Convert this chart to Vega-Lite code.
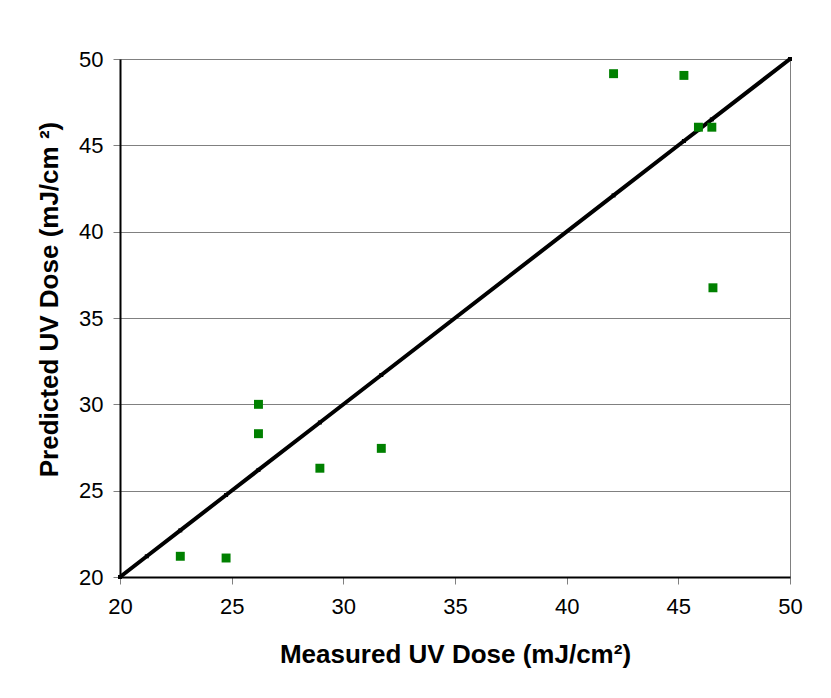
{
  "$schema": "https://vega.github.io/schema/vega-lite/v6.json",
  "autosize": {"type": "none"},
  "width": 670,
  "height": 518,
  "padding": {"left": 120, "top": 59, "right": 41, "bottom": 121},
  "background": "white",
  "config": {
    "view": {"stroke": "#808080", "strokeWidth": 1},
    "font": "Liberation Sans",
    "axis": {
      "labelFont": "Liberation Sans",
      "titleFont": "Liberation Sans",
      "labelFontSize": 22,
      "labelColor": "black",
      "labelFlush": false,
      "titleFontSize": 26,
      "titleFontWeight": "bold",
      "titleColor": "black",
      "domainColor": "black",
      "domainWidth": 2,
      "tickColor": "#808080",
      "tickSize": 7,
      "tickWidth": 1,
      "gridColor": "#808080",
      "gridWidth": 1,
      "gridOpacity": 1
    }
  },
  "datasets": {
    "obs": [
      {"measured": 22.7, "predicted": 21.2},
      {"measured": 24.75, "predicted": 21.1},
      {"measured": 26.2, "predicted": 30.0},
      {"measured": 26.2, "predicted": 28.3},
      {"measured": 28.95, "predicted": 26.3},
      {"measured": 31.7, "predicted": 27.45},
      {"measured": 42.1, "predicted": 49.15},
      {"measured": 45.25, "predicted": 49.05},
      {"measured": 45.9, "predicted": 46.05},
      {"measured": 46.5, "predicted": 46.05},
      {"measured": 46.55, "predicted": 36.75}
    ],
    "line": [
      {"x": 20, "y": 20},
      {"x": 21.2, "y": 21.2},
      {"x": 22.7, "y": 22.7},
      {"x": 24.75, "y": 24.75},
      {"x": 26.2, "y": 26.2},
      {"x": 28.95, "y": 28.95},
      {"x": 31.7, "y": 31.7},
      {"x": 42.1, "y": 42.1},
      {"x": 45.25, "y": 45.25},
      {"x": 45.9, "y": 45.9},
      {"x": 46.5, "y": 46.5},
      {"x": 50, "y": 50}
    ]
  },
  "layer": [
    {
      "data": {"name": "line"},
      "mark": {"type": "line", "color": "black", "strokeWidth": 4, "clip": false},
      "encoding": {
        "x": {
          "field": "x", "type": "quantitative",
          "scale": {"domain": [20, 50], "nice": false, "zero": false},
          "axis": {"values": [20, 25, 30, 35, 40, 45, 50], "grid": false, "title": "Measured UV Dose (mJ/cm²)", "titlePadding": 24, "labelPadding": 12}
        },
        "y": {
          "field": "y", "type": "quantitative",
          "scale": {"domain": [20, 50], "nice": false, "zero": false},
          "axis": {"values": [20, 25, 30, 35, 40, 45, 50], "grid": true, "title": "Predicted UV Dose (mJ/cm ²)", "titlePadding": 16, "labelPadding": 10, "titleY": 240}
        }
      }
    },
    {
      "data": {"name": "line"},
      "mark": {"type": "point", "shape": "square", "filled": true, "color": "black", "size": 16, "opacity": 1},
      "encoding": {
        "x": {"field": "x", "type": "quantitative"},
        "y": {"field": "y", "type": "quantitative"}
      }
    },
    {
      "data": {"name": "obs"},
      "mark": {"type": "point", "shape": "square", "filled": true, "color": "#008000", "size": 80, "opacity": 1},
      "encoding": {
        "x": {"field": "measured", "type": "quantitative"},
        "y": {"field": "predicted", "type": "quantitative"}
      }
    }
  ]
}
